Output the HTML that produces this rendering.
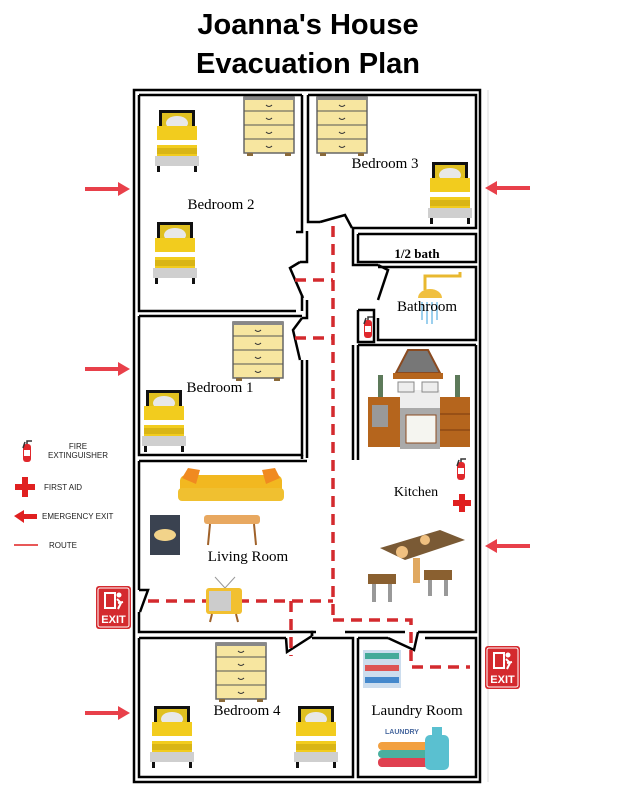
<!DOCTYPE html>
<html><head><meta charset="utf-8"><style>
html,body{margin:0;padding:0;background:#fff;}
svg{display:block}
</style></head><body>
<svg width="618" height="800" viewBox="0 0 618 800" xmlns="http://www.w3.org/2000/svg">
<defs>
<g id="bed">
<rect x="0" y="0" width="44" height="60" fill="#fff"/>
<rect x="4" y="0" width="36" height="16" fill="#111"/>
<rect x="7" y="3" width="30" height="14" fill="#e0c020"/>
<ellipse cx="22" cy="13" rx="11" ry="7" fill="#e8e8e8"/>
<rect x="2" y="16" width="40" height="32" fill="#f2cc1e"/>
<rect x="2" y="30" width="40" height="5" fill="#fff"/>
<rect x="2" y="38" width="40" height="6" fill="#d9b515"/>
<rect x="0" y="46" width="44" height="10" fill="#cfcfcf"/>
<rect x="2" y="56" width="3" height="6" fill="#111"/>
<rect x="39" y="56" width="3" height="6" fill="#111"/>
</g>
<g id="dresser">
<rect x="0" y="0" width="50" height="56" fill="#f7e6a0" stroke="#666" stroke-width="1.5"/>
<rect x="0" y="0" width="50" height="3" fill="#888"/>
<line x1="0" y1="14" x2="50" y2="14" stroke="#555"/>
<line x1="0" y1="28" x2="50" y2="28" stroke="#555"/>
<line x1="0" y1="42" x2="50" y2="42" stroke="#555"/>
<path d="M22 8 q3 3 6 0 M22 21 q3 3 6 0 M22 35 q3 3 6 0 M22 49 q3 3 6 0" stroke="#333" fill="none"/>
<rect x="3" y="56" width="6" height="3" fill="#8a6a3a"/><rect x="41" y="56" width="6" height="3" fill="#8a6a3a"/>
</g>
<g id="exit">
<rect x="0" y="0" width="35" height="43" rx="3" fill="#d42a2e"/>
<rect x="2" y="2" width="31" height="39" rx="2" fill="none" stroke="#fff" stroke-width="1"/>
<rect x="8" y="6" width="12" height="17" fill="#fff"/>
<rect x="10" y="8" width="8" height="13" fill="#d42a2e"/>
<circle cx="23" cy="9" r="2.5" fill="#fff"/>
<path d="M21 13 l4 4 l-3 6 M22 17 l5 -1" stroke="#fff" stroke-width="2" fill="none"/>
<text x="17.5" y="37" font-family="Liberation Sans, sans-serif" font-weight="bold" font-size="11" fill="#fff" text-anchor="middle">EXIT</text>
</g>
<g id="arrL"><polygon points="0,0 12,-7 12,-2 45,-2 45,2 12,2 12,7" fill="#e8404a"/></g>
<g id="ext">
<rect x="-4" y="0" width="8" height="18" rx="3" fill="#e0282c"/>
<rect x="-3" y="6" width="6" height="6" fill="#fff"/>
<path d="M0 0 v-3 h5 M-2 -2 l-2 6" stroke="#333" stroke-width="1.5" fill="none"/>
</g>
</defs>

<text x="308" y="34" font-family="Liberation Sans, sans-serif" font-weight="bold" font-size="29" text-anchor="middle" fill="#000">Joanna's House</text>
<text x="308" y="73" font-family="Liberation Sans, sans-serif" font-weight="bold" font-size="29" text-anchor="middle" fill="#000">Evacuation Plan</text>

<g stroke="#000" stroke-width="2.5" fill="none">
<!-- outer double walls -->
<rect x="134" y="90" width="346" height="692"/>
<!-- bedroom 2 -->
<polyline points="139,95 302,95"/>
<polyline points="139,95 139,311 296,311"/>
<polyline points="302,95 302,232 296,232"/>
<polyline points="302,295 302,311"/>
<!-- bedroom 3 -->
<polyline points="308,95 476,95 476,228 352,228"/>
<polyline points="308,95 308,222 320,222"/>
<!-- hall left walls -->
<polyline points="307,231 307,262 300,262"/>
<polyline points="307,300 307,318 302,318"/>
<!-- bedroom 1 -->
<polyline points="139,316 302,316"/>
<polyline points="139,316 139,455 302,455 302,360"/>
<polyline points="307,360 307,458"/>
<polyline points="302,455 302,459"/>
<!-- living room -->
<polyline points="139,461 307,461"/>
<polyline points="139,461 139,590"/>
<polyline points="139,612 139,632 312,632 312,636"/>
<polyline points="345,632 405,632"/>
<polyline points="418,632 476,632 476,345"/>
<!-- bedroom 4 -->
<polyline points="139,638 286,638"/>
<polyline points="139,638 139,777 353,777 353,638 312,638"/>
<!-- laundry -->
<polyline points="358,638 388,638"/>
<polyline points="425,638 476,638 476,777 358,777 358,638"/>
<!-- hall right / 1/2 bath -->
<polyline points="358,234 476,234 476,262 358,262 358,234"/>
<polyline points="353,228 353,265 378,265"/>
<polyline points="378,267 476,267 476,340 378,340 378,318"/>
<polyline points="358,310 374,310 374,342 358,342 358,310"/>
<polyline points="358,345 476,345"/>
<polyline points="358,345 358,460"/>
<polyline points="353,345 353,460"/>
</g>
<!-- doors -->
<g stroke="#000" stroke-width="2.5" fill="none">
<polyline points="320,222 345,215 352,228"/>
<polyline points="300,262 290,268 303,298"/>
<polyline points="302,318 293,330 300,360"/>
<polyline points="378,265 388,270 378,300"/>
<polyline points="139,590 148,590 140,612"/>
<polyline points="312,636 312,632 316,632 315,632"/>
<polyline points="286,638 287,652 312,636"/>
<polyline points="388,638 414,650 418,632"/>
</g>
<line x1="488" y1="90" x2="488" y2="782" stroke="#ddd" stroke-width="1"/>

<!-- routes -->
<g stroke="#d42a2e" stroke-width="3.5" stroke-dasharray="11,7" fill="none">
<line x1="333" y1="226" x2="333" y2="620"/>
<line x1="295" y1="280" x2="333" y2="280"/>
<line x1="295" y1="338" x2="333" y2="338"/>
<line x1="148" y1="601" x2="333" y2="601"/>
<line x1="291" y1="601" x2="291" y2="656"/>
<polyline points="333,620 411,620 411,667 470,667"/>
</g>

<!-- furniture -->
<use href="#bed" x="155" y="110"/>
<use href="#bed" x="153" y="222"/>
<use href="#bed" x="428" y="162"/>
<use href="#bed" x="142" y="390"/>
<use href="#bed" x="150" y="706"/>
<use href="#bed" x="294" y="706"/>
<use href="#dresser" x="244" y="97"/>
<use href="#dresser" x="317" y="97"/>
<use href="#dresser" x="233" y="322"/>
<use href="#dresser" x="216" y="643"/>

<!-- shower -->
<path d="M425 290 v-14 h35 v-4" stroke="#e8b830" stroke-width="3" fill="none"/>
<path d="M418 298 a12 9 0 0 1 24 0 z" fill="#f0c040"/>
<g stroke="#7ac0e8" stroke-width="1.5"><line x1="422" y1="302" x2="422" y2="320"/><line x1="427" y1="302" x2="427" y2="324"/><line x1="432" y1="302" x2="432" y2="324"/><line x1="437" y1="302" x2="437" y2="320"/></g>
<use href="#ext" x="368" y="320"/>

<!-- kitchen -->
<polygon points="408,350 428,350 440,373 396,373" fill="#777" stroke="#8a4a20" stroke-width="2"/>
<rect x="393" y="373" width="50" height="6" fill="#b5651d"/>
<rect x="378" y="375" width="5" height="22" fill="#5d7a5a"/>
<rect x="455" y="375" width="5" height="22" fill="#5d7a5a"/>
<rect x="368" y="397" width="34" height="50" fill="#b5651d"/>
<rect x="372" y="405" width="16" height="22" fill="#999"/>
<rect x="400" y="397" width="40" height="52" fill="#aaa"/>
<rect x="400" y="390" width="40" height="18" fill="#eee"/>
<rect x="398" y="382" width="16" height="10" fill="#eee" stroke="#888"/>
<rect x="422" y="382" width="16" height="10" fill="#eee" stroke="#888"/>
<rect x="406" y="415" width="30" height="28" fill="#f5f5f0" stroke="#8a4a20"/>
<rect x="440" y="397" width="30" height="50" fill="#b5651d"/>
<line x1="440" y1="414" x2="470" y2="414" stroke="#7a3a10"/><line x1="440" y1="430" x2="470" y2="430" stroke="#7a3a10"/>
<use href="#ext" x="461" y="462"/>
<rect x="453" y="500" width="18" height="6" fill="#e02020"/><rect x="459" y="494" width="6" height="18" fill="#e02020"/>
<text x="416" y="496" font-family="Liberation Serif, serif" font-size="14" text-anchor="middle">Kitchen</text>
<!-- dining table -->
<polygon points="380,548 440,530 465,540 405,560" fill="#7a5a35"/>
<rect x="413" y="558" width="7" height="25" fill="#e0a860"/>
<g fill="#8a6030"><rect x="368" y="574" width="28" height="10"/><rect x="424" y="570" width="28" height="10"/></g>
<g fill="#999"><rect x="372" y="584" width="4" height="18"/><rect x="388" y="584" width="4" height="18"/><rect x="428" y="580" width="4" height="16"/><rect x="444" y="580" width="4" height="16"/></g>
<circle cx="425" cy="540" r="5" fill="#f0c080"/><circle cx="402" cy="552" r="6" fill="#f0c080"/>

<!-- living room -->
<rect x="180" y="475" width="102" height="26" rx="6" fill="#f2b820"/>
<rect x="178" y="488" width="106" height="13" rx="4" fill="#f0c030"/>
<polygon points="188,468 200,470 196,484 182,478" fill="#f08a20"/>
<polygon points="262,470 275,468 280,478 266,484" fill="#f08a20"/>
<rect x="150" y="515" width="30" height="40" fill="#3a4250"/>
<ellipse cx="165" cy="535" rx="11" ry="6" fill="#f2d38a"/>
<rect x="204" y="515" width="56" height="9" rx="3" fill="#e8a860"/>
<line x1="210" y1="524" x2="208" y2="545" stroke="#a0622a" stroke-width="2"/><line x1="254" y1="524" x2="256" y2="545" stroke="#a0622a" stroke-width="2"/>
<text x="248" y="561" font-family="Liberation Serif, serif" font-size="15" text-anchor="middle">Living Room</text>
<line x1="215" y1="577" x2="225" y2="588" stroke="#999"/><line x1="235" y1="577" x2="225" y2="588" stroke="#999"/>
<rect x="206" y="588" width="36" height="26" rx="3" fill="#f2c030"/>
<rect x="209" y="591" width="22" height="20" fill="#ccc"/>
<line x1="212" y1="614" x2="210" y2="622" stroke="#a0622a" stroke-width="2"/><line x1="236" y1="614" x2="238" y2="622" stroke="#a0622a" stroke-width="2"/>

<!-- laundry -->
<rect x="363" y="650" width="38" height="38" fill="#cde"/>
<g fill="#4a9"><rect x="365" y="653" width="34" height="6"/></g><g fill="#d55"><rect x="365" y="665" width="34" height="6"/></g><g fill="#48c"><rect x="365" y="677" width="34" height="6"/></g>
<text x="385" y="734" font-family="Liberation Sans, sans-serif" font-weight="bold" font-size="7" fill="#4a6aa0">LAUNDRY</text>
<rect x="378" y="742" width="52" height="8" rx="4" fill="#f2a040"/>
<rect x="378" y="750" width="52" height="8" rx="4" fill="#4ab0a0"/>
<rect x="378" y="758" width="52" height="9" rx="4" fill="#e04050"/>
<rect x="425" y="735" width="24" height="35" rx="5" fill="#5ac0d0"/>
<rect x="432" y="727" width="10" height="9" fill="#5ac0d0"/>

<!-- labels -->
<g font-family="Liberation Serif, serif" font-size="15" fill="#000" text-anchor="middle">
<text x="221" y="209">Bedroom 2</text>
<text x="385" y="168">Bedroom 3</text>
<text x="220" y="392">Bedroom 1</text>
<text x="427" y="311">Bathroom</text>
<text x="247" y="715">Bedroom 4</text>
<text x="417" y="715">Laundry Room</text>
<text x="417" y="258" font-weight="bold" font-size="13">1/2 bath</text>
</g>

<!-- exits & arrows -->
<use href="#exit" x="96" y="586"/>
<use href="#exit" x="485" y="646"/>
<use href="#arrL" transform="translate(130,189) scale(-1,1)"/>
<use href="#arrL" transform="translate(130,369) scale(-1,1)"/>
<use href="#arrL" transform="translate(130,713) scale(-1,1)"/>
<use href="#arrL" x="485" y="188"/>
<use href="#arrL" x="485" y="546"/>

<!-- legend -->
<use href="#ext" x="27" y="444"/>
<rect x="15" y="484" width="20" height="6" fill="#e02020"/><rect x="22" y="477" width="6" height="20" fill="#e02020"/>
<polygon points="14,516 24,510 24,514 37,514 37,519 24,519 24,523" fill="#e02020"/>
<line x1="14" y1="545" x2="38" y2="545" stroke="#e02020" stroke-width="1.5"/>
<g font-family="Liberation Sans, sans-serif" font-size="8" fill="#222">
<text x="78" y="449" text-anchor="middle">FIRE</text>
<text x="78" y="458" text-anchor="middle">EXTINGUISHER</text>
<text x="44" y="490">FIRST AID</text>
<text x="42" y="519">EMERGENCY EXIT</text>
<text x="49" y="548">ROUTE</text>
</g>
</svg>
</body></html>
